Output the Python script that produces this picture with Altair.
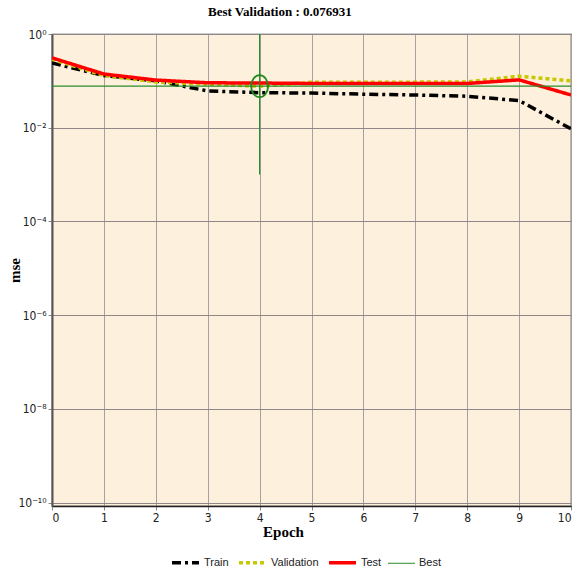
import altair as alt
import pandas as pd

epochs = [0, 1, 2, 3, 4, 5, 6, 7, 8, 9, 10]
train = [0.24, 0.13, 0.10, 0.061, 0.056, 0.055, 0.052, 0.050, 0.047, 0.038, 0.0095]
validation = [0.29, 0.13, 0.095, 0.085, 0.076931, 0.093, 0.093, 0.094, 0.095, 0.126, 0.10]
test = [0.31, 0.14, 0.104, 0.091, 0.09, 0.088, 0.088, 0.088, 0.088, 0.105, 0.05]
best_epoch = 4
best_value = 0.076931
best_low = 1e-3
y_ticks = [1e-10, 1e-8, 1e-6, 1e-4, 1e-2, 1]
y_labels = ["10⁻¹⁰", "10⁻⁸", "10⁻⁶", "10⁻⁴", "10⁻²", "10⁰"]
series = ["Train", "Validation", "Test", "Best"]
colors = ["#000000", "#C8C800", "#FF0000", "#2A8C2A"]
dashes = [[9, 4, 3, 4], [4, 3], [1, 0], [1, 0]]
widths = [3.5, 3.5, 3.5, 1.2]

rows = []
for name, vals in [("Train", train), ("Validation", validation), ("Test", test)]:
    for e, v in zip(epochs, vals):
        rows.append({"epoch": e, "mse": v, "series": name})
rows.append({"epoch": epochs[0], "mse": best_value, "series": "Best"})
rows.append({"epoch": epochs[-1], "mse": best_value, "series": "Best"})
df = pd.DataFrame(rows)

vline = pd.DataFrame({"epoch": [best_epoch], "lo": [best_low], "hi": [1.0]})
pt = pd.DataFrame({"epoch": [best_epoch], "mse": [best_value]})

label_expr = "[" + ",".join("'%s'" % l for l in y_labels) + "][round(log(datum.value)/LN10/2)+5]"
SANS = "'Liberation Sans Narrow', 'DejaVu Sans Condensed', 'Liberation Sans', sans-serif"
LEG = "'Liberation Sans Narrow', 'Liberation Sans', sans-serif"
SERIF = "'Liberation Serif', 'Times New Roman', serif"

xscale = alt.Scale(domain=[0, 10], nice=False, zero=False)
yscale = alt.Scale(type="log", domain=[10 ** -10.07, 1], nice=False)

xaxis = alt.Axis(values=epochs, format="d", title="Epoch", labelFont=SANS,
                 labelFontSize=12, labelColor="#222", titleFont=SERIF,
                 titleFontSize=15, titleFontWeight="bold", titlePadding=1, titleColor="#000",
                 titleX=231, titleAnchor="middle",
                 grid=True, gridColor="#a8a0a0", gridWidth=1, tickSize=4,
                 domainColor="#222", domainWidth=1.5, labelPadding=2)
yaxis = alt.Axis(values=y_ticks, labelExpr=label_expr, title="mse", labelFont=SANS,
                 labelFontSize=12, labelColor="#222", titleFont=SERIF,
                 titleFontSize=15, titleFontWeight="bold", titleColor="#000",
                 titleX=-30, titleY=236, titleAnchor="middle", titleBaseline="bottom",
                 grid=True, gridColor="#908888", gridWidth=1, tickSize=4,
                 domainColor="#555", domainWidth=2, labelPadding=2)

legend = alt.Legend(
    title=None, orient="none", direction="horizontal", legendX=118, legendY=513,
    symbolType="stroke", symbolSize=729,
    labelFont=LEG, labelFontSize=11, labelOffset=3, labelColor="#222", columnPadding=3,
)

lines = alt.Chart(df).mark_line(clip=True).encode(
    x=alt.X("epoch:Q", scale=xscale, axis=xaxis),
    y=alt.Y("mse:Q", scale=yscale, axis=yaxis),
    color=alt.Color("series:N", scale=alt.Scale(domain=series, range=colors), legend=legend),
    strokeDash=alt.StrokeDash("series:N", scale=alt.Scale(domain=series, range=dashes), legend=legend),
    strokeWidth=alt.StrokeWidth("series:N", scale=alt.Scale(type="ordinal", domain=series, range=widths),
                                legend=legend),
    order=alt.Order("series_order:Q"),
).transform_calculate(
    series_order="indexof(['Best','Train','Validation','Test'], datum.series)",
)

rule = alt.Chart(vline).mark_rule(color="#2A8C2A", strokeWidth=1.2).encode(
    x="epoch:Q", y="lo:Q", y2="hi:Q")

ellipse = "M -0.77 0 A 0.77 1 0 1 1 0.77 0 A 0.77 1 0 1 1 -0.77 0 Z"
circle = alt.Chart(pt).mark_point(shape=ellipse, size=484, color="#1E8A1E", strokeWidth=1.8,
                                  filled=False, opacity=1).encode(x="epoch:Q", y="mse:Q")

chart = alt.layer(lines, rule, circle).properties(
    width=519, height=472,
    title=alt.TitleParams("Best Validation : 0.076931", font=SERIF, fontSize=13,
                          fontWeight="bold", color="#000", offset=9, anchor="start", dx=201),
    autosize=alt.AutoSizeParams(type="none"),
    padding={"left": 52, "top": 34, "right": 6, "bottom": 63},
    background="white",
).configure_view(fill="#FDF0DC", stroke="#333", strokeWidth=1.2)

chart.save("out.html", embed_options={"renderer": "svg", "actions": False})
